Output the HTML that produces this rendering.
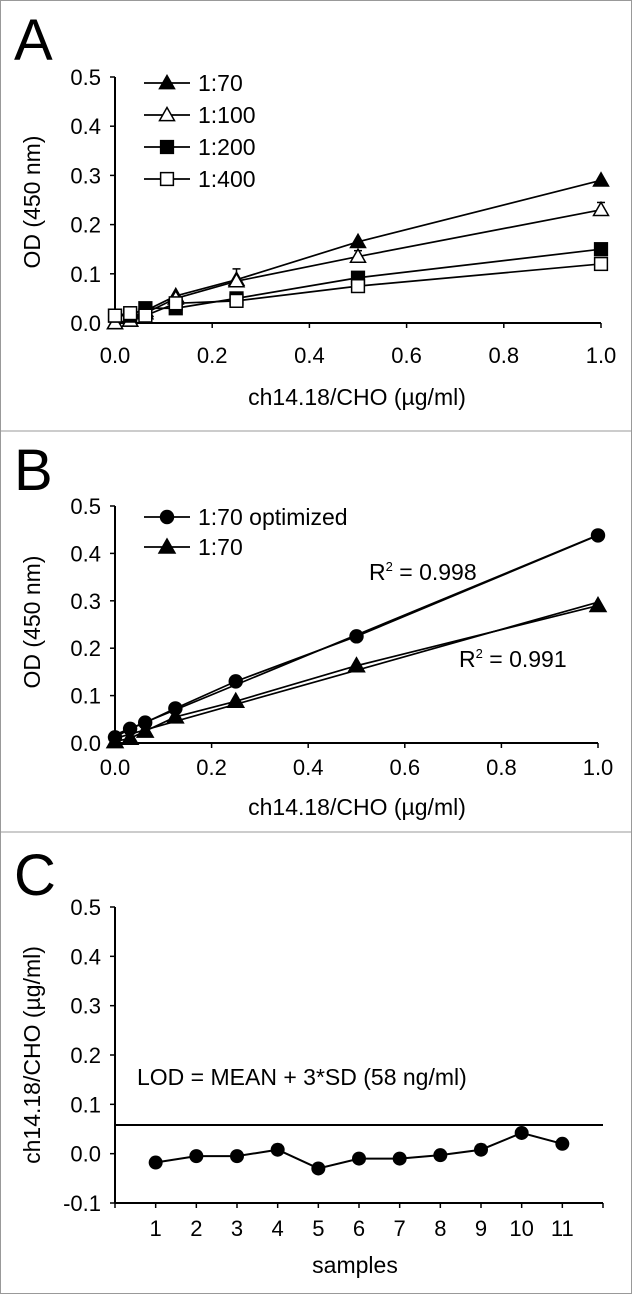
<!DOCTYPE html>
<html><head><meta charset="utf-8"><style>
html,body{margin:0;padding:0;background:#fff}
svg{display:block;font-family:"Liberation Sans",Arial,sans-serif}
</style></head><body>
<svg id="fig" width="632" height="1294" viewBox="0 0 632 1294">
<rect x="0.5" y="0.5" width="631" height="1293" fill="#fff" stroke="#999"/>
<line x1="0" y1="431" x2="632" y2="431" stroke="#999"/>
<line x1="0" y1="832" x2="632" y2="832" stroke="#999"/>
</svg>
<script>
// ---- Panel A data ----
const concA = [0, 0.03125, 0.0625, 0.125, 0.25, 0.5, 1.0];
const a70 = [0, 0.005, 0.025, 0.055, 0.088, 0.165, 0.29];
const a100 = [0, 0.005, 0.02, 0.05, 0.085, 0.135, 0.23];
const a200 = [0.015, 0.015, 0.03, 0.03, 0.05, 0.092, 0.15];
const a400 = [0.015, 0.02, 0.015, 0.04, 0.045, 0.075, 0.12];
const a70err = [0, 0, 0, 0, 0.022, 0, 0];
const a100err = [0, 0, 0, 0, 0, 0.012, 0.015];
const seriesNamesA = ["1:70", "1:100", "1:200", "1:400"];
// ---- Panel B data ----
const concB = [0, 0.03125, 0.0625, 0.125, 0.25, 0.5, 1.0];
const bOpt = [0.012, 0.03, 0.043, 0.073, 0.13, 0.225, 0.438];
const b70 = [0.003, 0.01, 0.025, 0.055, 0.088, 0.163, 0.29];
const seriesNamesB = ["1:70 optimized", "1:70"];
const r2Labels = ["0.998", "0.991"];
// ---- Panel C data ----
const samples = ["1","2","3","4","5","6","7","8","9","10","11"];
const cVals = [-0.018, -0.005, -0.005, 0.008, -0.03, -0.01, -0.01, -0.003, 0.008, 0.042, 0.02];
const lodValue = 0.058;
const xTicksAB = ["0.0","0.2","0.4","0.6","0.8","1.0"];
const yTicksAB = ["0.0","0.1","0.2","0.3","0.4","0.5"];
const yTicksC = ["-0.1","0.0","0.1","0.2","0.3","0.4","0.5"];

const NS = "http://www.w3.org/2000/svg";
const svg = document.getElementById('fig');
function el(tag, attrs, parent, text) {
  const e = document.createElementNS(NS, tag);
  for (const k in attrs) e.setAttribute(k, attrs[k]);
  if (text !== undefined) e.textContent = text;
  (parent || svg).appendChild(e);
  return e;
}
function marker(g, type, x, y, s) {
  let m;
  if (type === 'tri' || type === 'triOpen') {
    m = el('polygon', {points: `${x},${y-s} ${x-s},${y+s*0.75} ${x+s},${y+s*0.75}`, fill: type === 'tri' ? '#000' : '#fff', stroke: '#000', 'stroke-width': 1.5}, g);
  } else if (type === 'sq' || type === 'sqOpen') {
    m = el('rect', {x: x-s*0.85, y: y-s*0.85, width: s*1.7, height: s*1.7, fill: type === 'sq' ? '#000' : '#fff', stroke: '#000', 'stroke-width': 1.5}, g);
  } else {
    m = el('circle', {cx: x, cy: y, r: s*0.9, fill: '#000'}, g);
  }
  return m;
}
function axesXY(g, x0, x1, yTop, yBot, ticksY, yMin, yMax, rotTitle, yTitleY, yTitleText) {
  el('line', {x1: x0, y1: yTop, x2: x0, y2: yBot, stroke: '#000', 'stroke-width': 2}, g);
  ticksY.forEach((t, i) => {
    const v = parseFloat(t);
    const y = yBot - (v - yMin) / (yMax - yMin) * (yBot - yTop);
    el('line', {x1: x0 - 5, y1: y, x2: x0, y2: y, stroke: '#000', 'stroke-width': 1.5}, g);
    const tx = el('text', {x: x0 - 14, y: y + 8, 'text-anchor': 'end', 'font-size': 22}, g, t);
    
    
  });
  const yt = el('text', {x: 0, y: 0, transform: `translate(${rotTitle},${yTitleY}) rotate(-90)`, 'text-anchor': 'middle', 'font-size': 23}, g, yTitleText);
  
  
}

// ================= Panel A =================
(function(){
  const g = el('g', {});
  
  
  const X0 = 115, X1 = 601, YT = 77, YB = 323;
  const sx = v => X0 + v * (X1 - X0);
  const sy = v => YB - v / 0.5 * (YB - YT);
  const lab = el('text', {x: 14, y: 60, 'font-size': 58}, g, 'A');
  
  
  axesXY(g, X0, X1, YT, YB, yTicksAB, 0, 0.5, 40, 202, 'OD (450 nm)');
  el('line', {x1: X0, y1: YB, x2: X1, y2: YB, stroke: '#000', 'stroke-width': 2}, g);
  xTicksAB.forEach(t => {
    const x = sx(parseFloat(t));
    el('line', {x1: x, y1: YB, x2: x, y2: YB + 5, stroke: '#000', 'stroke-width': 1.5}, g);
    const tx = el('text', {x: x, y: 363, 'text-anchor': 'middle', 'font-size': 22}, g, t);
    
    
  });
  const xt = el('text', {x: 357, y: 405, 'text-anchor': 'middle', 'font-size': 23}, g, 'ch14.18/CHO (µg/ml)');
  
  
  const series = [[a70,'tri',a70err],[a100,'triOpen',a100err],[a200,'sq',null],[a400,'sqOpen',null]];
  series.forEach(([vals, type, err], si) => {
    const sg = el('g', {}, g);
    
    
    el('polyline', {points: concA.map((c,i)=>`${sx(c)},${sy(vals[i])}`).join(' '), fill: 'none', stroke: '#000', 'stroke-width': 1.7}, sg);
    concA.forEach((c,i)=>{
      if (err && err[i] > 0) {
        el('line', {x1: sx(c), y1: sy(vals[i]), x2: sx(c), y2: sy(vals[i]+err[i]), stroke:'#000','stroke-width':1.5}, sg);
        el('line', {x1: sx(c)-4, y1: sy(vals[i]+err[i]), x2: sx(c)+4, y2: sy(vals[i]+err[i]), stroke:'#000','stroke-width':1.5}, sg);
      }
      const m = marker(sg, type, sx(c), sy(vals[i]), 7.5);
      
      
    });
    const ly = 83 + si * 32;
    const lg = el('g', {}, g);
    
    
    el('line', {x1: 144, y1: ly, x2: 190, y2: ly, stroke: '#000', 'stroke-width': 1.7}, lg);
    marker(lg, type, 167, ly, 7.5);
    el('text', {x: 198, y: ly + 8, 'font-size': 23}, lg, seriesNamesA[si]);
  });
})();

// ================= Panel B =================
(function(){
  const g = el('g', {});
  
  
  const X0 = 115, X1 = 598, YT = 506, YB = 743;
  const sx = v => X0 + v * (X1 - X0);
  const sy = v => YB - v / 0.5 * (YB - YT);
  const lab = el('text', {x: 14, y: 490, 'font-size': 58}, g, 'B');
  
  
  axesXY(g, X0, X1, YT, YB, yTicksAB, 0, 0.5, 40, 622, 'OD (450 nm)');
  el('line', {x1: X0, y1: YB, x2: X1, y2: YB, stroke: '#000', 'stroke-width': 2}, g);
  xTicksAB.forEach(t => {
    const x = sx(parseFloat(t));
    el('line', {x1: x, y1: YB, x2: x, y2: YB + 5, stroke: '#000', 'stroke-width': 1.5}, g);
    const tx = el('text', {x: x, y: 775, 'text-anchor': 'middle', 'font-size': 22}, g, t);
    
    
  });
  const xt = el('text', {x: 357, y: 815, 'text-anchor': 'middle', 'font-size': 23}, g, 'ch14.18/CHO (µg/ml)');
  
  
  function fit(xs, ys) {
    const n = xs.length, mx = xs.reduce((a,b)=>a+b)/n, my = ys.reduce((a,b)=>a+b)/n;
    let sxy = 0, sxx = 0;
    xs.forEach((x,i)=>{ sxy += (x-mx)*(ys[i]-my); sxx += (x-mx)*(x-mx); });
    const b = sxy/sxx; return [my - b*mx, b];
  }
  [[bOpt,'dot'],[b70,'tri']].forEach(([vals,type],si)=>{
    const sg = el('g', {}, g);
    
    
    const [a, b] = fit(concB, vals);
    el('line', {x1: sx(0), y1: sy(a), x2: sx(1), y2: sy(a+b), stroke:'#000','stroke-width':1.7}, sg);
    el('polyline', {points: concB.map((c,i)=>`${sx(c)},${sy(vals[i])}`).join(' '), fill: 'none', stroke: '#000', 'stroke-width': 1.7}, sg);
    concB.forEach((c,i)=>{
      const m = marker(sg, type, sx(c), sy(vals[i]), 8);
      
      
    });
    const ly = 517 + si * 30;
    const lg = el('g', {}, g);
    
    
    el('line', {x1: 144, y1: ly, x2: 190, y2: ly, stroke: '#000', 'stroke-width': 1.7}, lg);
    marker(lg, type, 167, ly, 8);
    el('text', {x: 198, y: ly + 8, 'font-size': 23}, lg, seriesNamesB[si]);
  });
  const r1 = el('text', {x: 369, y: 580, 'font-size': 23}, g);
  
  
  r1.innerHTML = 'R<tspan dy="-9" font-size="13">2</tspan><tspan dy="9"> = ' + r2Labels[0] + '</tspan>';
  const r2 = el('text', {x: 459, y: 667, 'font-size': 23}, g);
  
  
  r2.innerHTML = 'R<tspan dy="-9" font-size="13">2</tspan><tspan dy="9"> = ' + r2Labels[1] + '</tspan>';
})();

// ================= Panel C =================
(function(){
  const g = el('g', {});
  
  
  const X0 = 115, X1 = 603, YT = 907, YB = 1203, step = (X1 - X0) / 12;
  const sx = i => X0 + (i + 1) * step;
  const sy = v => YB - (v + 0.1) / 0.6 * (YB - YT);
  const lab = el('text', {x: 14, y: 895, 'font-size': 58}, g, 'C');
  
  
  axesXY(g, X0, X1, YT, YB, yTicksC, -0.1, 0.5, 40, 1055, 'ch14.18/CHO (µg/ml)');
  el('line', {x1: X0, y1: YB, x2: X1, y2: YB, stroke: '#000', 'stroke-width': 2}, g);
  el('line', {x1: X0, y1: YB, x2: X0, y2: YB + 5, stroke: '#000', 'stroke-width': 1.5}, g);
  el('line', {x1: X1, y1: YB, x2: X1, y2: YB + 5, stroke: '#000', 'stroke-width': 1.5}, g);
  samples.forEach((s,i)=>{
    el('line', {x1: sx(i), y1: YB, x2: sx(i), y2: YB + 5, stroke: '#000', 'stroke-width': 1.5}, g);
    const tx = el('text', {x: sx(i), y: 1236, 'text-anchor': 'middle', 'font-size': 22}, g, s);
    
    
  });
  const xt = el('text', {x: 355, y: 1273, 'text-anchor': 'middle', 'font-size': 23}, g, 'samples');
  
  
  const lod = el('line', {x1: X0, y1: sy(lodValue), x2: X1, y2: sy(lodValue), stroke: '#000', 'stroke-width': 2}, g);
  
  
  const lt = el('text', {x: 137, y: 1085, 'font-size': 23}, g, 'LOD = MEAN + 3*SD (58 ng/ml)');
  
  
  const sg = el('g', {}, g);
  
  
  el('polyline', {points: cVals.map((v,i)=>`${sx(i)},${sy(v)}`).join(' '), fill: 'none', stroke: '#000', 'stroke-width': 2}, sg);
  cVals.forEach((v,i)=>{
    const m = el('circle', {cx: sx(i), cy: sy(v), r: 7, fill: '#000'}, sg);
    
    
  });
})();
</script>
</body></html>
